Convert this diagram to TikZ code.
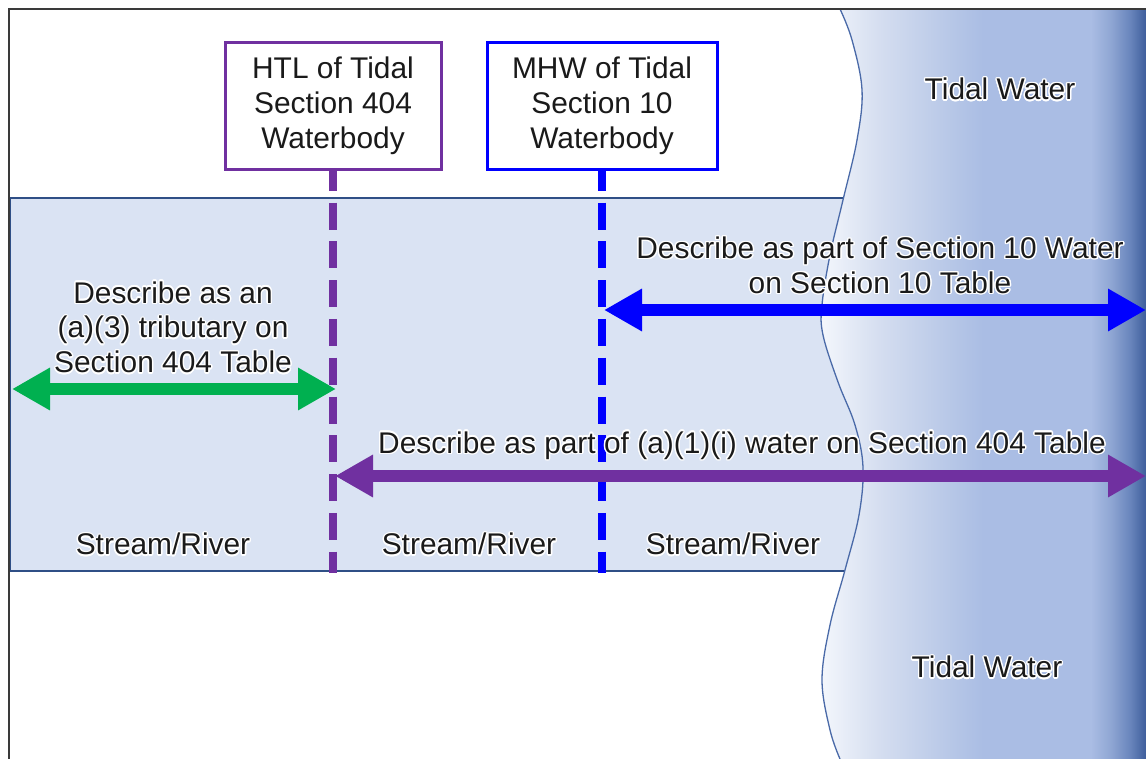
\documentclass[tikz,border=0pt]{standalone}
\usepackage{fontspec}
\setmainfont{Liberation Sans}
\usepackage{contour}
\contourlength{1.4pt}
\contournumber{16}
\usetikzlibrary{arrows.meta}
\definecolor{streamfill}{HTML}{DAE3F3}
\definecolor{edgeblue}{HTML}{2F4F86}
\definecolor{waveedge}{HTML}{4A6AA8}
\definecolor{purp}{HTML}{7030A0}
\definecolor{grn}{HTML}{00B050}
\definecolor{pureblue}{HTML}{0000FF}
\definecolor{txt}{HTML}{1A1A1A}
\definecolor{frame}{HTML}{3A3A3A}
\definecolor{tw0}{HTML}{F4F7FC}
\definecolor{tw1}{HTML}{D5DEF0}
\definecolor{tw2}{HTML}{B7C7E7}
\definecolor{tw3}{HTML}{AABDE4}
\definecolor{tw4}{HTML}{90A7D4}
\definecolor{tw5}{HTML}{6A86BD}
\definecolor{tw6}{HTML}{3E5E9C}
\pgfdeclarehorizontalshading{tidal}{100bp}{color(0bp)=(tw0); color(25bp)=(tw0); color(34bp)=(tw1); color(45bp)=(tw2); color(50bp)=(tw3); color(66.5bp)=(tw3); color(69.5bp)=(tw4); color(72.5bp)=(tw5); color(75bp)=(tw6); color(100bp)=(tw6)}
\newcommand\gw[1]{\contour{white}{#1}}
\tikzset{
  lbl/.style={font=\fontsize{30}{35}\selectfont, text=txt, align=center, inner sep=0pt},
  markbox/.style={lbl, fill=white, line width=3bp, minimum height=126bp},
  bigarrow/.style={line width=12bp, {Triangle[length=38bp,width=40bp]}-{Triangle[length=38bp,width=40bp]}},
  dashline/.style={line width=8.5bp, dash pattern=on 27bp off 11.8bp, dash phase=6.8bp},
}
\begin{document}
\begin{tikzpicture}[x=1bp,y=-1bp]
\useasboundingbox (0,0) rectangle (1146,759);
% stream / river band (runs on under the tidal water)
\draw[fill=streamfill, draw=edgeblue, line width=1.2bp] (10,198) rectangle (950,571);
% tidal water
\shade[shading=tidal] plot[smooth, tension=0.6] coordinates {(840,9) (852,40) (862,90) (857,140) (843,200) (830,255) (822,305) (823,335) (838,382) (855,425) (863,467) (859,515) (845,570) (830,625) (822,680) (830,730) (840,759)} -- (1146,759) -- (1146,9) -- cycle;
\draw[waveedge, line width=1.3bp] plot[smooth, tension=0.6] coordinates {(840,9) (852,40) (862,90) (857,140) (843,200) (830,255) (822,305) (823,335) (838,382) (855,425) (863,467) (859,515) (845,570) (830,625) (822,680) (830,730) (840,759)};
% frame
\draw[frame, line width=2.5bp] (9,765) -- (9,9) -- (1150,9);
% marker boxes
\node[markbox, draw=purp, minimum width=216bp] (htl) at (333,106) {HTL of Tidal\\Section 404\\Waterbody};
\node[markbox, draw=pureblue, minimum width=230bp] (mhw) at (602,106) {MHW of Tidal\\Section 10\\Waterbody};
\coordinate (bot) at (0,573);
\draw[purp, dashline] (htl.south) -- (htl.south |- bot);
\draw[pureblue, dashline] (mhw.south) -- (mhw.south |- bot);
% arrows
\coordinate (gL) at (12,389);
\coordinate (gR) at (336,389);
\coordinate (bL) at (604,310);
\coordinate (bR) at (1146,310);
\coordinate (pL) at (335,476);
\coordinate (pR) at (1146,476);
\draw[grn, bigarrow] (gL) -- (gR);
\draw[pureblue, bigarrow] (bL) -- (bR);
\draw[purp, bigarrow] (pL) -- (pR);
% labels
\node[lbl] (trib) at (173,328) {\gw{Describe as an}\\\gw{(a)(3) tributary on}\\\gw{Section 404 Table}};
\node[lbl] (s10) at (880,266) {\gw{Describe as part of Section 10 Water}\\\gw{on Section 10 Table}};
\node[lbl] (s404) at (742,446) {\gw{Describe as part of (a)(1)(i) water on Section 404 Table}};
\node[lbl] (sr1) at (163,545) {\gw{Stream/River}};
\node[lbl] (sr2) at (469,545) {\gw{Stream/River}};
\node[lbl] (sr3) at (733,545) {\gw{Stream/River}};
\node[lbl] (tw1) at (1000,90) {\gw{Tidal Water}};
\node[lbl] (tw2) at (987,668) {\gw{Tidal Water}};
\end{tikzpicture}
\end{document}
